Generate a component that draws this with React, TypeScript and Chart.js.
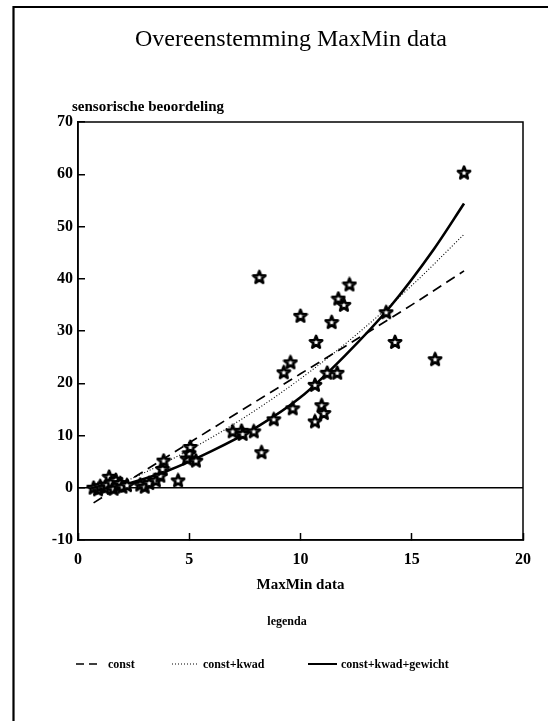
import { useEffect, useRef } from "react";
import { Chart, registerables } from "chart.js";
Chart.register(...registerables);

const chartTitle = "Overeenstemming MaxMin data";
const yCaption = "sensorische beoordeling";
const xTitle = "MaxMin data";
const legendTitle = "legenda";
const seriesNames = ["const", "const+kwad", "const+kwad+gewicht"];

const xMin = 0;
const xMax = 20;
const xStep = 5;
const yMin = -10;
const yMax = 70;
const yStep = 10;

// observed points (MaxMin data, sensorische beoordeling)
const obsX = [
  0.7, 0.9, 1.0, 1.2, 1.3, 1.4, 1.5, 1.6, 1.7, 1.8, 1.9, 2.0, 2.2,
  2.8, 3.0, 3.2, 3.5, 3.7, 3.8, 3.85, 4.5, 4.9, 5.0, 5.05, 5.3,
  6.95, 7.35, 7.4, 7.9, 8.25, 8.15, 8.8, 9.25, 9.55, 9.65, 10.0, 10.65, 10.65,
  10.7, 10.95, 11.05, 11.2, 11.4, 11.65, 11.7, 11.95, 12.2, 13.85, 14.25, 16.05, 17.35,
];
const obsY = [
  0.0, -0.3, 0.3, 0.0, 0.6, 2.1, 1.0, -0.2, 1.5, 0.4, 0.9, 0.2, 0.5,
  0.6, 0.2, 0.9, 1.4, 2.3, 3.6, 5.2, 1.4, 5.6, 6.6, 7.8, 5.2,
  10.8, 10.9, 10.3, 10.8, 6.8, 40.3, 13.1, 22.1, 24.0, 15.2, 32.9, 12.7, 19.7,
  27.9, 15.8, 14.3, 22.0, 31.7, 22.0, 36.2, 35.0, 38.9, 33.6, 27.9, 24.6, 60.3,
];

// fitted curves
const constX = [0.7, 5, 10, 15, 17.35];
const constY = [-2.9, 8.6, 21.8, 35.0, 41.5];
const kwadX = [1.0, 3, 6, 9, 12, 15, 17.35];
const kwadY = [-0.8, 2.9, 9.6, 17.8, 27.5, 38.7, 48.5];
const gewX = [1.0, 2, 4, 6, 8, 10, 12, 14, 16, 17.35];
const gewY = [-0.4, 0.5, 3.2, 7.0, 11.5, 17.3, 25.3, 34.5, 45.7, 54.4];

const FONT = '"Liberation Serif", "DejaVu Serif", serif';

function pts(xs: number[], ys: number[]) {
  return xs.map((x, i) => ({ x, y: ys[i] }));
}

function makeStar(): HTMLCanvasElement {
  const c = document.createElement("canvas");
  c.width = 16;
  c.height = 16;
  const g = c.getContext("2d")!;
  const cx = 8, cy = 8.4, R = 6.4, r = 2.8;
  g.beginPath();
  for (let i = 0; i < 10; i++) {
    const rad = i % 2 === 0 ? R : r;
    const ang = -Math.PI / 2 + (i * Math.PI) / 5;
    const px = cx + rad * Math.cos(ang);
    const py = cy + rad * Math.sin(ang);
    if (i === 0) g.moveTo(px, py);
    else g.lineTo(px, py);
  }
  g.closePath();
  g.fillStyle = "#fff";
  g.fill();
  g.lineWidth = 2.7;
  g.lineJoin = "round";
  g.strokeStyle = "#000";
  g.stroke();
  return c;
}

const decor = {
  id: "decor",
  beforeDraw(chart: any) {
    const ctx = chart.ctx;
    ctx.save();
    ctx.fillStyle = "#fff";
    ctx.fillRect(0, 0, chart.width, chart.height);
    ctx.restore();
  },
  afterDraw(chart: any) {
    const ctx = chart.ctx as CanvasRenderingContext2D;
    const a = chart.chartArea;
    ctx.save();
    // outer frame
    ctx.strokeStyle = "#000";
    ctx.lineWidth = 2.2;
    ctx.setLineDash([]);
    ctx.beginPath();
    ctx.moveTo(13.5, chart.height);
    ctx.lineTo(13.5, 7);
    ctx.lineTo(chart.width, 7);
    ctx.stroke();
    // plot frame
    ctx.lineWidth = 1.5;
    ctx.strokeRect(a.left, a.top, a.right - a.left, a.bottom - a.top);

    ctx.fillStyle = "#000";
    // title
    ctx.font = `24px ${FONT}`;
    ctx.textAlign = "center";
    ctx.textBaseline = "alphabetic";
    ctx.fillText(chartTitle, 291, 46);
    // y caption
    ctx.font = `bold 15px ${FONT}`;
    ctx.textAlign = "left";
    ctx.fillText(yCaption, a.left - 6, 111);

    // legend
    ctx.font = `bold 12px ${FONT}`;
    ctx.textAlign = "center";
    ctx.textBaseline = "middle";
    ctx.fillText(legendTitle, 287, 622);
    const ly = 664;
    ctx.textAlign = "left";
    const items = [
      { x0: 76, x1: 97, tx: 108, dash: [8, 5], w: 1.5 },
      { x0: 172, x1: 197, tx: 203, dash: [1, 2], w: 1.1 },
      { x0: 308, x1: 337, tx: 341, dash: [], w: 2 },
    ];
    items.forEach((it, i) => {
      ctx.beginPath();
      ctx.setLineDash(it.dash);
      ctx.lineWidth = it.w;
      ctx.moveTo(it.x0, ly);
      ctx.lineTo(it.x1, ly);
      ctx.stroke();
      ctx.setLineDash([]);
      ctx.fillText(seriesNames[i], it.tx, ly + 1);
    });
    ctx.restore();
  },
};

export default function App() {
  const ref = useRef<HTMLCanvasElement | null>(null);
  useEffect(() => {
    if (!ref.current) return;
    const star = makeStar();
    const chart = new Chart(ref.current, {
      type: "scatter",
      data: {
        datasets: [
          {
            label: "data",
            data: pts(obsX, obsY),
            pointStyle: star as any,
            pointRadius: 6,
            showLine: false,
          },
          {
            label: seriesNames[0],
            data: pts(constX, constY),
            showLine: true,
            pointRadius: 0,
            borderColor: "#000",
            borderWidth: 1.7,
            borderDash: [10, 6],
            cubicInterpolationMode: "monotone",
          },
          {
            label: seriesNames[1],
            data: pts(kwadX, kwadY),
            showLine: true,
            pointRadius: 0,
            borderColor: "#000",
            borderWidth: 1.1,
            borderDash: [1, 2],
            cubicInterpolationMode: "monotone",
          },
          {
            label: seriesNames[2],
            data: pts(gewX, gewY),
            showLine: true,
            pointRadius: 0,
            borderColor: "#000",
            borderWidth: 2.6,
            cubicInterpolationMode: "monotone",
          },
        ],
      } as any,
      options: {
        responsive: false,
        animation: false,
        devicePixelRatio: 1,
        layout: { padding: { left: 0, top: 122, right: 25, bottom: 127 } },
        plugins: {
          legend: { display: false },
          title: { display: false },
          tooltip: { enabled: false },
        },
        scales: {
          x: {
            type: "linear",
            min: xMin,
            max: xMax,
            afterFit: (s: any) => {
              s.height = 54;
            },
            ticks: {
              stepSize: xStep,
              color: "#000",
              padding: 17,
              font: { family: FONT, size: 16, weight: "bold" },
            },
            grid: {
              drawOnChartArea: false,
              drawTicks: true,
              tickLength: -7,
              tickColor: "#000",
              tickWidth: 1.5,
            },
            border: { display: true, color: "#000", width: 1.5 },
            title: {
              display: true,
              text: xTitle,
              color: "#000",
              padding: { top: 0, bottom: 0 },
              font: { family: FONT, size: 15, weight: "bold" },
            },
          },
          y: {
            type: "linear",
            min: yMin,
            max: yMax,
            afterFit: (s: any) => {
              s.width = 78;
            },
            ticks: {
              stepSize: yStep,
              color: "#000",
              padding: 12,
              font: { family: FONT, size: 16, weight: "bold" },
            },
            grid: {
              drawOnChartArea: true,
              drawTicks: true,
              tickLength: -7,
              tickColor: "#000",
              tickWidth: 1.5,
              lineWidth: 1.5,
              color: (c: any) => (c.tick && c.tick.value === 0 ? "#000" : "rgba(0,0,0,0)"),
            },
            border: { display: true, color: "#000", width: 1.5 },
          },
        },
      } as any,
      plugins: [decor],
    });
    return () => chart.destroy();
  }, []);
  return (
    <div style={{ position: "fixed", left: 0, top: 0, width: 548, height: 721, background: "#fff" }}>
      <canvas ref={ref} width={548} height={721} style={{ display: "block" }} />
    </div>
  );
}
